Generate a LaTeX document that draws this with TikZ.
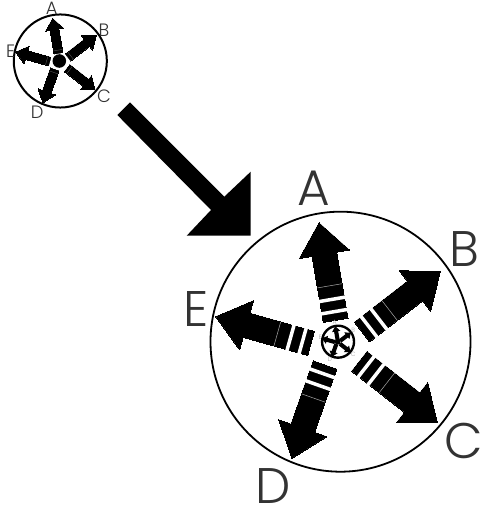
\documentclass[tikz,border=0pt]{standalone}
\usepackage{fontspec}
\setmainfont{Poppins}[UprightFont=* Light]
\definecolor{labelink}{HTML}{333333}
\definecolor{seam}{HTML}{AAAAAA}
\definecolor{faintseam}{HTML}{666666}
\tikzset{
  ring/.style={draw=black,fill=white},
  spoke/.style={fill=black,draw=black},
  gap/.style={fill=white,draw=none},
  letter/.style={inner sep=0pt}
}
% arrow list: inner-end x / inner-end y (relative to hub) / direction
\newcommand{\arrowlist}{-2/21.4/99.7, 24.3/9.7/37.7, 21.6/-19.6/-38, -12.7/-23.3/250.6, -26.7/-1.7/164.3}
\newcommand{\biglabels}{A/-24.4/153.7,B/126.3/92.7,C/126.3/-99.3,D/-64.7/-144.3,E/-142/32.7}
\newcommand{\smalllabels}{A/-21/148,B/124.9/84.6,C/124.9/-99.7,D/-61.5/-144.4,E/-135.8/26}
% #1 hub x, #2 hub y, #3 scale, #4 ring width, #5 name prefix, #6 label colour, #7 spoke outline, #8 labels
\newcommand{\wheelbase}[8]{%
  \begin{scope}[shift={(#1,#2)},scale=#3]
    \node[circle,ring,minimum size=260*#3 pt,inner sep=0pt,line width=#4pt] (#5ring) at (2.8,0) {};
    \foreach \ox/\oy/\ang in \arrowlist{
      \begin{scope}[shift={(\ox,\oy)},rotate=\ang]
        \filldraw[spoke,line width=#7pt] (0,-12.5)--(67,-12.5)--(67,-25.5)--(99,0)--(67,25.5)--(67,12.5)--(0,12.5)--cycle;
      \end{scope}
    }
    \pgfmathsetmacro{\fs}{50*#3}
    \foreach \n/\px/\py in #8{
      \node[letter,text=#6] (#5\n) at (\px,\py) {\fontsize{\fs}{\fs}\selectfont\n};
    }
  \end{scope}}
\begin{document}
\begin{tikzpicture}[x=1pt,y=1pt]
\useasboundingbox (0,0) rectangle (483,508);
% large wheel
\wheelbase{337.7}{166.3}{1}{1.8}{big}{labelink}{0}{\biglabels}
\begin{scope}[shift={(337.7,166.3)}]
  \foreach \ox/\oy/\ang in \arrowlist{
    \begin{scope}[shift={(\ox,\oy)},rotate=\ang]
      \fill[gap] (7,-13.5) rectangle (10.5,13.5);
      \fill[gap] (19.5,-13.5) rectangle (23,13.5);
      \draw[seam,line width=0.5pt] (35,-12.5) -- (35,12.5);
    \end{scope}
  }
\end{scope}
% wheel nested in the large hub
\wheelbase{337.7}{166.3}{0.123}{2.4}{mini}{seam}{1}{\biglabels}
\fill[black] (337.7,166.3) circle (3);
% small wheel
\wheelbase{59.3}{447}{0.358}{2}{small}{labelink}{0}{\smalllabels}
\begin{scope}[shift={(59.3,447)},scale=0.358]
  \foreach \ox/\oy/\ang in \arrowlist{
    \begin{scope}[shift={(\ox,\oy)},rotate=\ang]
      \draw[white,line width=0.7pt] (-2,-13) -- (-2,13);
      \draw[faintseam,line width=0.3pt] (9,-12.5) -- (9,12.5);
    \end{scope}
  }
\end{scope}
\fill[black] (59.3,447) circle (6.8);
% big arrow
\fill[black] (130,405.7)--(224.3,311.3)--(250.7,336.3)--(250.7,272.3)--(186.7,272.3)--(211,298)--(117.3,393)--cycle;
\end{tikzpicture}
\end{document}
